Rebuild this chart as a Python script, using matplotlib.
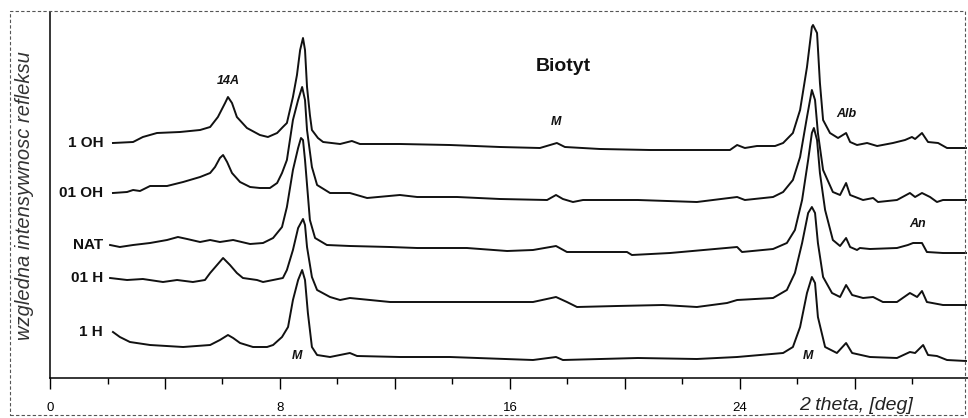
import matplotlib.pyplot as plt
from matplotlib.patches import Rectangle
from matplotlib.ticker import MultipleLocator, FuncFormatter

# 2-theta positions [deg] and stacked intensities (arb. units, offset included)
x_1oh = [2.19, 2.89, 3.23, 3.72, 4.52, 5.22, 5.57, 5.84, 6.09, 6.19, 6.33, 6.50, 6.85, 7.30,
         7.58, 7.90, 8.10, 8.24, 8.45, 8.59, 8.70, 8.80, 8.87, 8.94, 9.04, 9.11, 9.32, 9.50,
         10.09, 10.50, 10.78, 12.17, 13.91, 15.65, 17.04, 17.63, 17.91, 19.13, 20.87, 22.61,
         23.65, 23.90, 24.17, 24.59, 25.22, 25.50, 25.84, 26.09, 26.33, 26.50, 26.54, 26.68,
         26.78, 26.89, 27.13, 27.41, 27.69, 27.83, 28.07, 28.42, 28.77, 29.32, 29.74, 29.98,
         30.09, 30.33, 30.54, 30.89, 31.20, 31.86]
y_1oh = [235, 236, 241, 245, 246, 248, 251, 261, 275, 281, 275, 261, 250, 243,
         241, 245, 251, 255, 281, 303, 328, 340, 328, 291, 263, 248, 240, 236,
         234, 237, 234, 234, 233, 231, 230, 235, 231, 229, 228, 228,
         228, 233, 230, 232, 232, 235, 245, 268, 311, 351, 353, 345,
         295, 258, 245, 240, 245, 236, 233, 235, 232, 235, 238, 241,
         239, 245, 236, 235, 230, 230]

x_01oh = [2.19, 2.68, 2.89, 3.13, 3.48, 4.07, 4.63, 5.22, 5.57, 5.74, 5.91, 6.02, 6.16, 6.33,
          6.61, 6.96, 7.30, 7.65, 7.90, 8.07, 8.24, 8.45, 8.63, 8.77, 8.87, 8.94, 9.11, 9.29,
          9.74, 10.43, 11.03, 12.17, 12.77, 14.16, 15.65, 17.29, 17.60, 17.84, 18.19, 18.54,
          20.45, 22.50, 23.90, 24.17, 25.15, 25.50, 25.84, 26.09, 26.33, 26.50, 26.61, 26.71,
          26.89, 27.23, 27.48, 27.69, 27.83, 28.28, 28.63, 28.80, 29.46, 29.91, 30.09, 30.33,
          30.61, 30.85, 31.06, 31.86]
y_01oh = [185, 186, 188, 187, 192, 192, 196, 201, 205, 211, 220, 223, 216, 205,
          196, 191, 190, 190, 195, 205, 218, 258, 278, 291, 278, 248, 211, 193,
          185, 185, 180, 183, 181, 181, 179, 178, 183, 179, 176, 178,
          178, 176, 181, 178, 181, 186, 198, 221, 261, 288, 278, 245,
          208, 186, 183, 195, 183, 178, 180, 176, 178, 185, 181, 185,
          181, 176, 178, 178]

x_nat = [2.09, 2.43, 2.89, 3.48, 4.07, 4.45, 4.77, 5.22, 5.57, 5.91, 6.37, 6.96, 7.41, 7.76,
         8.07, 8.24, 8.45, 8.63, 8.73, 8.80, 8.87, 9.04, 9.22, 9.63, 10.43, 11.83, 12.77,
         14.50, 15.90, 16.80, 17.60, 17.98, 19.13, 20.07, 20.24, 21.57, 23.90, 24.07, 25.15,
         25.63, 25.91, 26.16, 26.37, 26.50, 26.57, 26.68, 26.78, 26.96, 27.23, 27.48, 27.69,
         27.83, 28.07, 28.17, 28.52, 29.46, 29.84, 30.02, 30.33, 30.50, 31.06, 31.86]
y_nat = [133, 131, 133, 135, 138, 141, 139, 136, 138, 136, 138, 134, 135, 140,
         151, 171, 208, 230, 240, 238, 218, 158, 140, 133, 132, 131, 130,
         130, 127, 128, 132, 126, 126, 126, 123, 125, 131, 126, 129,
         135, 148, 178, 218, 245, 250, 238, 205, 168, 138, 132, 140,
         131, 128, 130, 129, 130, 133, 135, 135, 126, 125, 125]

x_01h = [2.09, 2.68, 3.23, 3.93, 4.42, 4.97, 5.39, 5.57, 5.81, 6.02, 6.26, 6.50, 6.71, 7.20,
         7.41, 7.76, 8.10, 8.24, 8.45, 8.63, 8.80, 8.87, 8.94, 9.11, 9.29, 9.74, 10.09, 10.43,
         11.83, 13.32, 15.65, 16.80, 17.60, 17.98, 18.33, 19.72, 21.32, 22.50, 23.55, 23.90,
         25.15, 25.63, 25.91, 26.16, 26.37, 26.50, 26.61, 26.71, 26.89, 27.20, 27.48, 27.69,
         27.90, 28.28, 28.63, 28.97, 29.46, 29.91, 30.16, 30.33, 30.50, 31.06, 31.86]
y_01h = [100, 98, 99, 96, 98, 96, 98, 105, 113, 120, 113, 105, 100, 98,
         96, 98, 100, 108, 128, 150, 159, 153, 131, 101, 88, 81, 78, 80,
         76, 76, 76, 76, 81, 76, 71, 72, 73, 71, 75, 78,
         80, 88, 105, 135, 165, 171, 165, 135, 101, 85, 81, 93,
         83, 80, 81, 76, 76, 85, 81, 87, 76, 73, 73]

x_1h = [2.19, 2.43, 2.78, 3.48, 4.63, 5.57, 5.91, 6.19, 6.37, 6.61, 7.06, 7.55, 7.76, 8.07,
        8.28, 8.45, 8.63, 8.77, 8.87, 8.97, 9.11, 9.29, 9.74, 10.43, 10.68, 12.17, 13.91,
        16.80, 17.60, 17.84, 20.45, 22.50, 23.90, 25.50, 25.84, 26.09, 26.33, 26.50, 26.61,
        26.71, 26.96, 27.37, 27.69, 27.90, 28.52, 29.46, 29.91, 30.09, 30.37, 30.54, 30.85,
        31.20, 31.86]
y_1h = [46, 41, 36, 33, 31, 33, 38, 43, 40, 35, 31, 31, 33, 41,
        51, 78, 98, 108, 98, 65, 31, 23, 21, 25, 22, 21, 21,
        18, 21, 18, 20, 19, 21, 25, 31, 51, 85, 101, 95,
        61, 31, 25, 35, 25, 21, 20, 26, 25, 33, 23, 22,
        18, 17]

series = [
    ("1 OH", x_1oh, y_1oh),
    ("01 OH", x_01oh, y_01oh),
    ("NAT", x_nat, y_nat),
    ("01 H", x_01h, y_01h),
    ("1 H", x_1h, y_1h),
]

# reflex labels: (text, 2theta, intensity)
peak_labels = [
    ("14A", 6.19, 291),
    ("M", 17.60, 250),
    ("Alb", 27.69, 258),
    ("An", 30.16, 148),
    ("M", 8.59, 16),
    ("M", 26.37, 16),
]

plt.rcParams["font.family"] = ["Liberation Sans", "DejaVu Sans"]

fig = plt.figure(figsize=(9.68, 4.18), dpi=100)
ax = fig.add_axes([50 / 968, 40 / 418, 918 / 968, 366 / 418])

for name, xs, ys in series:
    ax.plot(xs, ys, color="#111111", linewidth=1.4, solid_joinstyle="round")
    ax.text(1.85, ys[0], name, ha="right", va="center",
            fontsize=11, fontweight="bold", color="#111111")

for txt, px, py in peak_labels:
    ax.text(px, py, txt, ha="center", va="bottom", fontsize=9,
            fontweight="bold", fontstyle="italic", color="#111111")

ax.text(17.85, 311, "Biotyt", ha="center", va="center",
        fontsize=14, fontweight="bold", color="#111111")

ax.set_xlim(0, 918 / 28.75)
ax.set_ylim(0, 366)

ax.spines["top"].set_visible(False)
ax.spines["right"].set_visible(False)
ax.spines["left"].set_linewidth(1.1)
ax.spines["bottom"].set_linewidth(1.1)

ax.xaxis.set_major_locator(MultipleLocator(4))
ax.xaxis.set_minor_locator(MultipleLocator(2))
ax.xaxis.set_major_formatter(FuncFormatter(lambda v, p: f"{v:.0f}" if v % 8 == 0 else ""))
ax.tick_params(axis="x", which="major", length=8, width=1, direction="out", pad=9,
               labelsize=9.5)
ax.tick_params(axis="x", which="minor", length=4, width=1, direction="out")
ax.set_yticks([])

fig.text(25 / 968, (418 - 196) / 418, "wzgledna intensywnosc refleksu",
         rotation=90, ha="center", va="center", fontsize=14.5,
         fontstyle="italic", color="#333333")

fig.text(799 / 968, (418 - 405) / 418, "2 theta, [deg]", ha="left", va="center",
         fontsize=14, fontstyle="italic", color="#222222")

# dashed frame round the whole figure
fig.patches.append(Rectangle((10 / 968, 3 / 418), 955 / 968, 404 / 418,
                             transform=fig.transFigure, fill=False,
                             edgecolor="#555555", linestyle=(0, (3, 2)), linewidth=0.8))

fig.savefig("out.png", dpi=100)
